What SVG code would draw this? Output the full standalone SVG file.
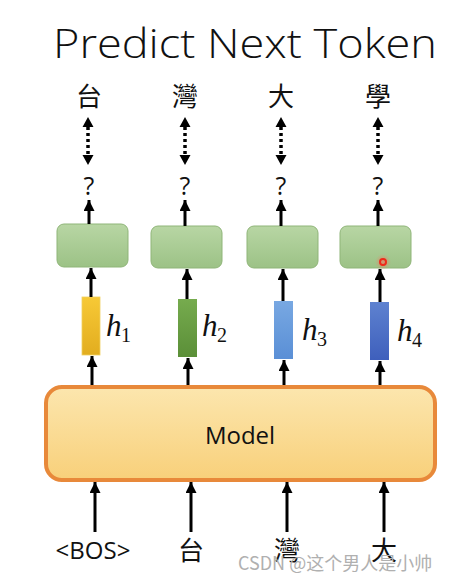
<svg xmlns="http://www.w3.org/2000/svg" width="465" height="582" viewBox="0 0 465 582">
<defs>
<style>
.title{font-family:"Open Sans","Noto Sans",sans-serif;font-weight:300;font-size:41px;fill:#111}
.cjk{font-family:"Noto Sans CJK TC","Noto Sans CJK SC",sans-serif;font-size:26px;fill:#111;text-anchor:middle}
.q{font-family:"Open Sans","Noto Sans",sans-serif;font-size:25px;fill:#111;text-anchor:middle}
.lbl{font-family:"Open Sans","Noto Sans",sans-serif;font-size:24px;fill:#111;text-anchor:middle}
.h{font-family:"Liberation Serif",serif;font-style:italic;font-size:31px;fill:#111}
.sub{font-family:"Liberation Serif",serif;font-size:20px;fill:#111}
.ln{stroke:#000;stroke-width:3;fill:none}
.dot{stroke:#000;stroke-width:3.5;stroke-dasharray:3 3;fill:none}
.gbox{fill:url(#gg);stroke:#8fb578;stroke-width:1}
.wm{font-family:"Noto Sans CJK SC","Liberation Sans",sans-serif;font-size:18px;fill:#b0b0b0}
</style>
<marker id="ah" viewBox="0 0 10 10" refX="10" refY="5" markerWidth="11" markerHeight="11" orient="auto-start-reverse" markerUnits="userSpaceOnUse">
<path d="M0,0 L10,5 L0,10 z" fill="#000"/>
</marker>
<linearGradient id="gg" x1="0" y1="0" x2="0" y2="1"><stop offset="0" stop-color="#b8d6a4"/><stop offset="1" stop-color="#9cc286"/></linearGradient>
<linearGradient id="g1" x1="0" y1="0" x2="0" y2="1"><stop offset="0" stop-color="#f7c936"/><stop offset="1" stop-color="#e2ad1f"/></linearGradient>
<linearGradient id="g2" x1="0" y1="0" x2="0" y2="1"><stop offset="0" stop-color="#76ab4e"/><stop offset="1" stop-color="#5b8f38"/></linearGradient>
<linearGradient id="g3" x1="0" y1="0" x2="0" y2="1"><stop offset="0" stop-color="#78a8e2"/><stop offset="1" stop-color="#5a8fd6"/></linearGradient>
<linearGradient id="g4" x1="0" y1="0" x2="0" y2="1"><stop offset="0" stop-color="#5e82d0"/><stop offset="1" stop-color="#3e5fbc"/></linearGradient>
<linearGradient id="gm" x1="0" y1="0" x2="0" y2="1"><stop offset="0" stop-color="#fce6ae"/><stop offset="1" stop-color="#f8d07a"/></linearGradient>
<radialGradient id="glow"><stop offset="0" stop-color="#ff6a5a" stop-opacity="0.6"/><stop offset="1" stop-color="#ff6a5a" stop-opacity="0"/></radialGradient>
</defs>
<rect width="465" height="582" fill="#fff"/>
<text class="title" x="53" y="58" textLength="384" lengthAdjust="spacingAndGlyphs">Predict Next Token</text>

<g id="outputs">
<text class="cjk" x="89" y="106">台</text>
<text class="cjk" x="185" y="106">灣</text>
<text class="cjk" x="281" y="106">大</text>
<text class="cjk" x="378" y="106">學</text>
<text class="q" x="89" y="195">?</text>
<text class="q" x="185" y="195">?</text>
<text class="q" x="281" y="195">?</text>
<text class="q" x="378" y="195">?</text>
</g>

<g id="heads">
<rect id="head1" class="gbox" x="57" y="224" width="71" height="43" rx="7"/>
<rect id="head2" class="gbox" x="151" y="226" width="71" height="42" rx="7"/>
<rect id="head3" class="gbox" x="247" y="226" width="71" height="42" rx="7"/>
<rect id="head4" class="gbox" x="340" y="226" width="71" height="42" rx="7"/>
</g>

<g id="hidden">
<g id="h1"><rect x="82" y="297" width="18" height="58" fill="url(#g1)" stroke="#f0d060" stroke-width="0.8"/><text class="h" x="106" y="336">h</text><text class="sub" x="121" y="342">1</text></g>
<g id="h2"><rect x="178" y="299" width="19" height="58" fill="url(#g2)"/><text class="h" x="202" y="336">h</text><text class="sub" x="217" y="342">2</text></g>
<g id="h3"><rect x="274" y="301" width="19" height="58" fill="url(#g3)"/><text class="h" x="302" y="340">h</text><text class="sub" x="317" y="346">3</text></g>
<g id="h4"><rect x="370" y="302" width="19" height="58" fill="url(#g4)"/><text class="h" x="397" y="341">h</text><text class="sub" x="412" y="347">4</text></g>
</g>

<g id="model">
<rect x="46" y="387" width="389" height="93" rx="16" fill="url(#gm)" stroke="#e8893a" stroke-width="4"/>
<text class="lbl" x="240" y="444">Model</text>
</g>

<g id="inputs">
<text class="lbl" x="93" y="559">&lt;BOS&gt;</text>
<text class="cjk" x="191" y="560">台</text>
<text class="cjk" x="287" y="560">灣</text>
<text class="cjk" x="384" y="560">大</text>
</g>

<g id="connectors">
<line class="dot" x1="88" y1="127" x2="88" y2="155" />
<line class="dot" x1="185" y1="127" x2="185" y2="155" />
<line class="dot" x1="281" y1="127" x2="281" y2="155" />
<line class="dot" x1="378" y1="127" x2="378" y2="155" />
<g fill="#000">
<path d="M88,117 l-5.5,10 h11 z M88,165 l-5.5,-10 h11 z"/>
<path d="M185,117 l-5.5,10 h11 z M185,165 l-5.5,-10 h11 z"/>
<path d="M281,117 l-5.5,10 h11 z M281,165 l-5.5,-10 h11 z"/>
<path d="M378,117 l-5.5,10 h11 z M378,165 l-5.5,-10 h11 z"/>
</g>
<line class="ln" x1="89" y1="224" x2="89" y2="200" marker-end="url(#ah)"/>
<line class="ln" x1="185" y1="226" x2="185" y2="200" marker-end="url(#ah)"/>
<line class="ln" x1="281" y1="226" x2="281" y2="200" marker-end="url(#ah)"/>
<line class="ln" x1="378" y1="226" x2="378" y2="200" marker-end="url(#ah)"/>
<line class="ln" x1="91" y1="297" x2="91" y2="268" marker-end="url(#ah)"/>
<line class="ln" x1="187" y1="299" x2="187" y2="269" marker-end="url(#ah)"/>
<line class="ln" x1="283" y1="301" x2="283" y2="269" marker-end="url(#ah)"/>
<line class="ln" x1="380" y1="302" x2="380" y2="269" marker-end="url(#ah)"/>
<line class="ln" x1="92" y1="385" x2="92" y2="356" marker-end="url(#ah)"/>
<line class="ln" x1="188" y1="385" x2="188" y2="358" marker-end="url(#ah)"/>
<line class="ln" x1="284" y1="385" x2="284" y2="360" marker-end="url(#ah)"/>
<line class="ln" x1="380" y1="385" x2="380" y2="361" marker-end="url(#ah)"/>
<line class="ln" x1="95" y1="532" x2="95" y2="482" marker-end="url(#ah)"/>
<line class="ln" x1="191" y1="532" x2="191" y2="482" marker-end="url(#ah)"/>
<line class="ln" x1="287" y1="532" x2="287" y2="482" marker-end="url(#ah)"/>
<line class="ln" x1="384" y1="532" x2="384" y2="482" marker-end="url(#ah)"/>
</g>

<circle cx="383" cy="262" r="8" fill="url(#glow)"/>
<circle cx="383" cy="262" r="3" fill="none" stroke="#ee2a1a" stroke-width="2"/>
<text class="wm" x="238" y="570">CSDN @这个男人是小帅</text>
</svg>
